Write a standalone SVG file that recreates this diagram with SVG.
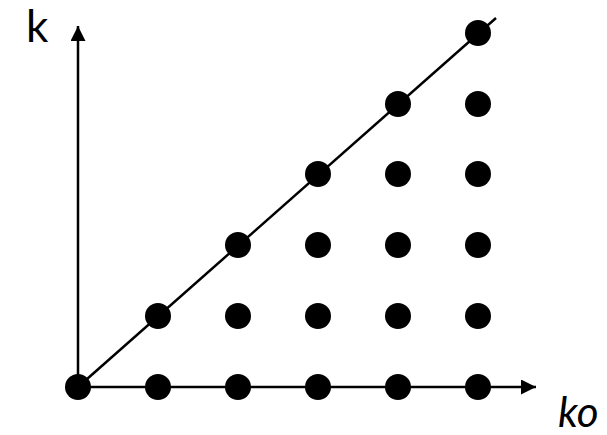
<svg xmlns="http://www.w3.org/2000/svg" width="607" height="435" viewBox="0 0 607 435">
<style>
.ax{stroke:#000;stroke-width:2.5;fill:none}
.dot{fill:#000}
.lbl{font-family:"Lato","Liberation Sans",sans-serif;fill:#000}
</style>
<defs>
<marker id="arr" viewBox="0 0 10 10" refX="10" refY="5" markerWidth="6" markerHeight="6" markerUnits="strokeWidth" orient="auto">
<path d="M0,0 L10,5 L0,10 Z" fill="#000"/>
</marker>
</defs>
<rect width="607" height="435" fill="#fff"/>
<g id="connectors">
<line class="ax" x1="78" y1="387" x2="78" y2="26" marker-end="url(#arr)"/>
<line class="ax" x1="78" y1="387" x2="536" y2="387" marker-end="url(#arr)"/>
<line class="ax" x1="78" y1="387" x2="496" y2="18"/>
</g>
<g id="labels">
<text class="lbl" x="26" y="42" font-size="44">k</text>
<text class="lbl" x="558" y="427" font-size="42" font-style="italic">ko</text>
</g>
<g id="dots">
<g id="r0">
<circle class="dot" cx="78" cy="387" r="13"/>
<circle class="dot" cx="158" cy="387" r="13"/>
<circle class="dot" cx="238" cy="387" r="13"/>
<circle class="dot" cx="318" cy="387" r="13"/>
<circle class="dot" cx="398" cy="387" r="13"/>
<circle class="dot" cx="478" cy="387" r="13"/>
</g>
<g id="r1">
<circle class="dot" cx="158" cy="316" r="13"/>
<circle class="dot" cx="238" cy="316" r="13"/>
<circle class="dot" cx="318" cy="316" r="13"/>
<circle class="dot" cx="398" cy="316" r="13"/>
<circle class="dot" cx="478" cy="316" r="13"/>
</g>
<g id="r2">
<circle class="dot" cx="238" cy="245" r="13"/>
<circle class="dot" cx="318" cy="245" r="13"/>
<circle class="dot" cx="398" cy="245" r="13"/>
<circle class="dot" cx="478" cy="245" r="13"/>
</g>
<g id="r3">
<circle class="dot" cx="318" cy="174" r="13"/>
<circle class="dot" cx="398" cy="174" r="13"/>
<circle class="dot" cx="478" cy="174" r="13"/>
</g>
<g id="r4">
<circle class="dot" cx="398" cy="104" r="13"/>
<circle class="dot" cx="478" cy="104" r="13"/>
</g>
<g id="r5">
<circle class="dot" cx="478" cy="33" r="13"/>
</g>
</g>
</svg>
